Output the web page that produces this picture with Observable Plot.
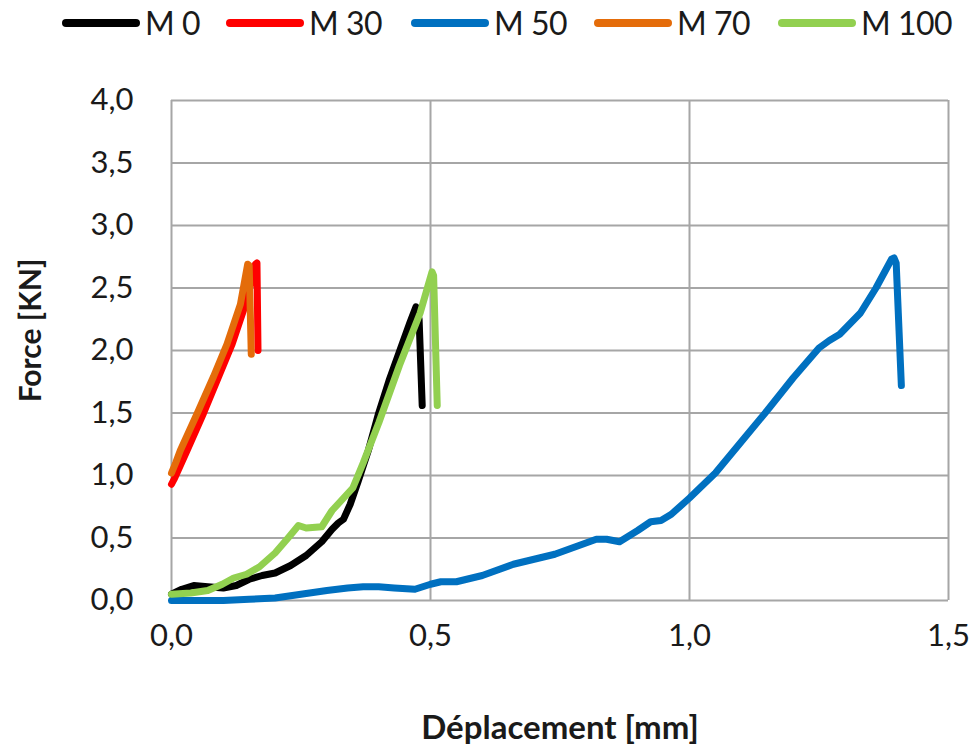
<!DOCTYPE html>
<html>
<head>
<meta charset="utf-8">
<script src="https://cdn.jsdelivr.net/npm/d3@7"></script>
<script src="https://cdn.jsdelivr.net/npm/@observablehq/plot@0.6"></script>
<style>
  html, body { margin: 0; padding: 0; background: #fff; }
  #wrap { position: relative; width: 978px; height: 753px; font-family: Lato, "Open Sans", sans-serif; }
  #legend { position: relative; width: 978px; height: 45px; }
  .item { position: absolute; top: 0; height: 45px; display: flex; align-items: center; }
  .item svg { display: block; }
  .item span { font-size: 32px; color: #1a1a1a; margin-left: 5px; line-height: 1; letter-spacing: -0.5px; }
  #chart svg { display: block; }
</style>
</head>
<body>
<div id="wrap">
  <div id="legend"></div>
  <div id="chart"></div>
</div>
<script>
// ---- data ----
const seriesNames = ["M 0", "M 30", "M 50", "M 70", "M 100"];
const seriesColors = ["#000000", "#ff0000", "#0070c0", "#e46c0a", "#92d050"];
const legendLeft = [62, 226, 411, 594, 778];

const xTicks = [0, 0.5, 1.0, 1.5];
const yTicks = [0, 0.5, 1.0, 1.5, 2.0, 2.5, 3.0, 3.5, 4.0];

const M0 = [[0,0.05],[0.02,0.09],[0.043,0.12],[0.07,0.11],[0.1,0.1],[0.125,0.12],[0.15,0.17],[0.175,0.2],[0.2,0.22],[0.23,0.28],[0.26,0.36],[0.29,0.47],[0.31,0.57],[0.322,0.62],[0.332,0.65],[0.345,0.77],[0.36,0.95],[0.38,1.2],[0.40,1.5],[0.42,1.76],[0.44,1.99],[0.46,2.22],[0.472,2.35],[0.478,2.25],[0.484,1.56]];
const M30 = [[0,0.93],[0.005,0.97],[0.03,1.2],[0.062,1.5],[0.091,1.79],[0.117,2.05],[0.143,2.37],[0.162,2.69],[0.165,2.7],[0.167,2.0]];
const M50 = [[0,0.0],[0.05,0.0],[0.1,0.0],[0.15,0.01],[0.2,0.02],[0.25,0.05],[0.3,0.08],[0.34,0.1],[0.37,0.11],[0.4,0.11],[0.43,0.1],[0.47,0.09],[0.5,0.13],[0.52,0.15],[0.55,0.15],[0.6,0.2],[0.66,0.29],[0.7,0.33],[0.74,0.37],[0.78,0.43],[0.82,0.49],[0.84,0.49],[0.865,0.47],[0.9,0.56],[0.925,0.63],[0.945,0.64],[0.965,0.69],[1.0,0.82],[1.05,1.02],[1.1,1.27],[1.15,1.52],[1.2,1.78],[1.25,2.02],[1.27,2.08],[1.29,2.13],[1.33,2.3],[1.36,2.5],[1.39,2.73],[1.395,2.74],[1.399,2.7],[1.409,1.72]];
const M70 = [[0,1.02],[0.008,1.1],[0.017,1.2],[0.05,1.5],[0.081,1.79],[0.107,2.05],[0.133,2.37],[0.147,2.69],[0.15,2.68],[0.154,1.97]];
const M100 = [[0,0.05],[0.037,0.06],[0.07,0.08],[0.098,0.13],[0.12,0.18],[0.145,0.21],[0.17,0.27],[0.2,0.38],[0.225,0.5],[0.245,0.6],[0.26,0.58],[0.29,0.59],[0.31,0.72],[0.35,0.9],[0.37,1.1],[0.40,1.42],[0.44,1.88],[0.48,2.3],[0.503,2.63],[0.506,2.6],[0.513,1.56]];

const allSeries = [M0, M30, M50, M70, M100];

// ---- legend ----
const legend = document.getElementById("legend");
seriesNames.forEach((name, i) => {
  const d = document.createElement("div");
  d.className = "item";
  d.style.left = legendLeft[i] + "px";
  d.innerHTML = `<svg width="78" height="12"><line x1="4" y1="6" x2="74" y2="6" stroke="${seriesColors[i]}" stroke-width="8" stroke-linecap="round"/></svg><span>${name}</span>`;
  legend.appendChild(d);
});

// ---- chart ----
const fmt = d => d.toFixed(1).replace(".", ",");
const grid = "#a6a6a6";
const lineMarks = allSeries.map((pts, i) =>
  Plot.line(pts, {x: d => d[0], y: d => d[1], stroke: seriesColors[i], strokeWidth: 7,
    strokeLinecap: "round", strokeLinejoin: "round", curve: "linear"}));

const chart = Plot.plot({
  width: 978,
  height: 708,
  marginTop: 55,
  marginBottom: 153,
  marginLeft: 171,
  marginRight: 30,
  style: {fontFamily: "Lato, 'Open Sans', sans-serif", color: "#1a1a1a", background: "#fff"},
  x: {domain: [0, 1.5]},
  y: {domain: [0, 4]},
  marks: [
    Plot.gridX(xTicks, {stroke: grid, strokeOpacity: 1, strokeWidth: 2}),
    Plot.gridY(yTicks, {stroke: grid, strokeOpacity: 1, strokeWidth: 2}),
    Plot.axisX({ticks: xTicks, tickFormat: fmt, tickSize: 0, tickPadding: 23, fontSize: 31, label: null}),
    Plot.axisY({ticks: yTicks, tickFormat: fmt, tickSize: 0, tickPadding: 38, fontSize: 31, label: null}),
    ...lineMarks,
    Plot.text(["Déplacement [mm]"], {frameAnchor: "bottom", lineAnchor: "middle", textAnchor: "middle", dy: 128, fontSize: 33, fontWeight: "bold", fill: "#1a1a1a"}),
    Plot.text(["Force [KN]"], {frameAnchor: "left", lineAnchor: "middle", textAnchor: "middle", dx: -140, dy: -20, rotate: -90, fontSize: 30, fontWeight: "bold", fill: "#1a1a1a"})
  ]
});
document.getElementById("chart").appendChild(chart);
</script>
</body>
</html>
